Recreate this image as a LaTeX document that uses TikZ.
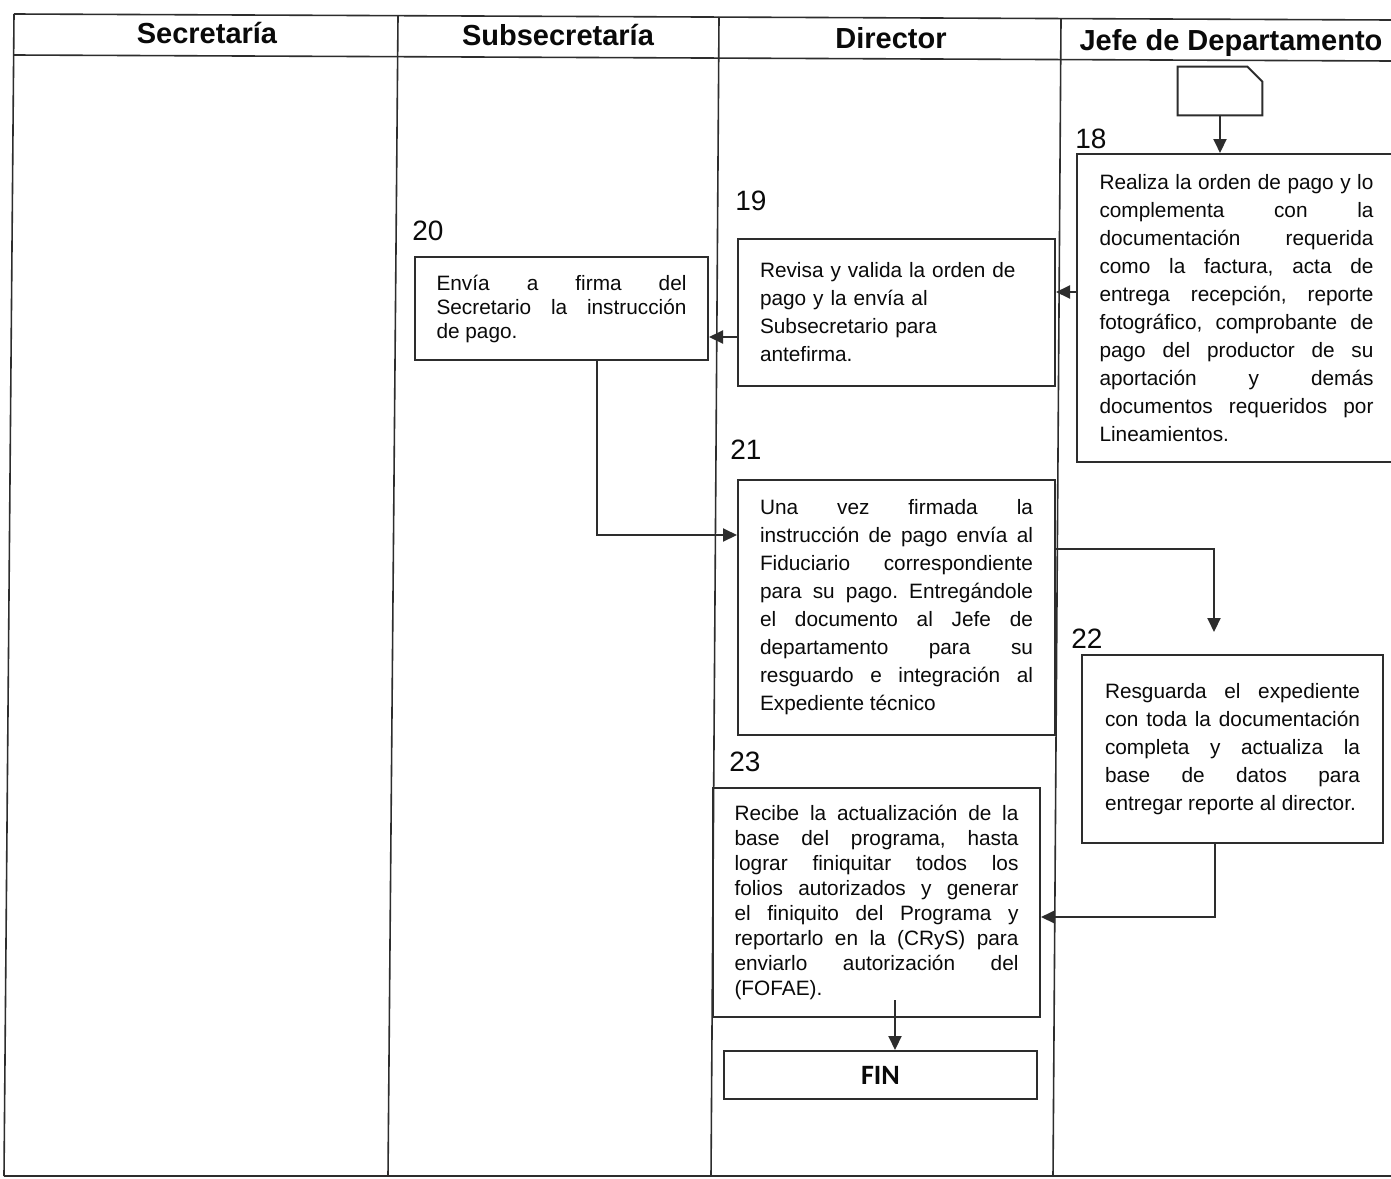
\documentclass[tikz,border=0pt]{standalone}
\usepackage{fontspec}
\setmainfont{Liberation Sans}
\newfontfamily\finfont{Carlito}
\usetikzlibrary{arrows.meta}
\definecolor{lanecolor0001}{RGB}{45,45,45}
\definecolor{textcolor0002}{RGB}{10,10,10}
\tolerance=10000
\hbadness=10000
\hyphenpenalty=10000
\frenchspacing
\begin{document}
\begin{tikzpicture}[x=0.5pt,y=-0.5pt
,lanestyle/.style={color=lanecolor0001,line width=0.8pt}
,shapestyle/.style={color=lanecolor0001,line width=1pt}
,boxstyle/.style={draw=lanecolor0001,line width=1pt,text=textcolor0002,align=justify,inner ysep=0pt,font=\fontsize{10.4}{14}\selectfont}
,arrowstyle/.style={color=lanecolor0001,line width=1pt,-{Triangle[length=7pt,width=6.5pt]}}
,headstyle/.style={text=textcolor0002,font=\fontsize{14.5}{14.5}\selectfont\bfseries,anchor=base,inner sep=0}
,numstyle/.style={text=textcolor0002,font=\fontsize{14}{14}\selectfont,anchor=base west,inner sep=0}
]
\useasboundingbox (0,0) rectangle (1391,1178);
\fill[white] (0,0) rectangle (1391,1178);
\draw[lanestyle] (14,14) -- (1391,20);
\draw[lanestyle] (14,55) -- (1391,61);
\draw[lanestyle] (4,1176) -- (1391,1176);
\draw[lanestyle] (14,14) -- (4,1176);
\draw[lanestyle] (398,16) -- (388,1176);
\draw[lanestyle] (719,17) -- (711,1176);
\draw[lanestyle] (1061,19) -- (1053,1176);
\node (h1) at (207,43)[headstyle]{Secretaría};
\node (h2) at (558,45)[headstyle]{Subsecretaría};
\node (h3) at (891,48)[headstyle]{Director};
\node (h4) at (1231,50)[headstyle]{Jefe de Departamento};
\node (conector) at (1220,91)[minimum width=42pt,minimum height=24pt,inner sep=0]{};
\draw[shapestyle] (conector.south west) -- (conector.north west) -- ([xshift=-7.5pt]conector.north east) -- ([yshift=-7.5pt]conector.north east) -- (conector.south east) -- cycle;
\node (n18) at (1075,148)[numstyle]{18};
\node (box18) at (1236.5,308)[boxstyle,text width=137pt,inner xsep=11.25pt,minimum height=154pt]{Realiza la orden de pago y lo\linebreak complementa con la\linebreak documentación requerida\linebreak como la factura, acta de\linebreak entrega recepción, reporte\linebreak fotográfico, comprobante de\linebreak pago del productor de su\linebreak aportación y demás\linebreak documentos requeridos por\linebreak Lineamientos.};
\node (n19) at (735,210)[numstyle]{19};
\node (box19) at (896.5,312.5)[boxstyle,align=left,text width=136.5pt,inner xsep=11pt,minimum height=73.5pt]{Revisa y valida la orden de\\pago y la envía al\\Subsecretario para\\antefirma.\\[-6pt]};
\node (n20) at (412,240)[numstyle]{20};
\node (box20) at (561.5,308.5)[boxstyle,text width=125pt,inner xsep=10.75pt,minimum height=51.5pt,font=\fontsize{10.4}{12}\selectfont]{Envía a firma del\linebreak Secretario la instrucción\linebreak de pago.};
\node (n21) at (730,459)[numstyle]{21};
\node (box21) at (896.5,607.5)[boxstyle,text width=136.5pt,inner xsep=11pt,minimum height=127.5pt]{Una vez firmada la\linebreak instrucción de pago envía al\linebreak Fiduciario correspondiente\linebreak para su pago. Entregándole\linebreak el documento al Jefe de\linebreak departamento para su\linebreak resguardo e integración al\linebreak Expediente técnico};
\node (n22) at (1071,648)[numstyle]{22};
\node (box22) at (1232.5,749)[boxstyle,text width=127.5pt,inner xsep=11.5pt,minimum height=94pt]{Resguarda el expediente\linebreak con toda la documentación\linebreak completa y actualiza la\linebreak base de datos para\linebreak entregar reporte al director.};
\node (n23) at (729,771)[numstyle]{23};
\node (box23) at (876.5,902.5)[boxstyle,text width=142pt,inner xsep=10.75pt,minimum height=114.5pt,font=\fontsize{10.4}{12.5}\selectfont]{Recibe la actualización de la\linebreak base del programa, hasta\linebreak lograr finiquitar todos los\linebreak folios autorizados y generar\linebreak el finiquito del Programa y\linebreak reportarlo en la (CRyS) para\linebreak enviarlo autorización del\linebreak (FOFAE).};
\node (fin) at (880.5,1075)[boxstyle,align=center,minimum width=156.5pt,minimum height=24pt,font=\finfont\bfseries\fontsize{14}{14}\selectfont]{FIN};
\coordinate (llega22) at (1214,632);
\coordinate (sale23) at (895,1000);
\draw[arrowstyle] (conector.south) -- (conector.south |- box18.north);
\draw[arrowstyle] (box18.west |- 0,292) -- (box19.east |- 0,292);
\draw[arrowstyle] (box19.west |- 0,337) -- (box20.east |- 0,337);
\draw[arrowstyle] (597,0 |- box20.south) |- (box21.west |- 0,535);
\draw[arrowstyle] (box21.east |- 0,549) -| (llega22);
\draw[arrowstyle] (1215,0 |- box22.south) |- (box23.east |- 0,917);
\draw[arrowstyle] (sale23) -- (sale23 |- fin.north);
\end{tikzpicture}
\end{document}
